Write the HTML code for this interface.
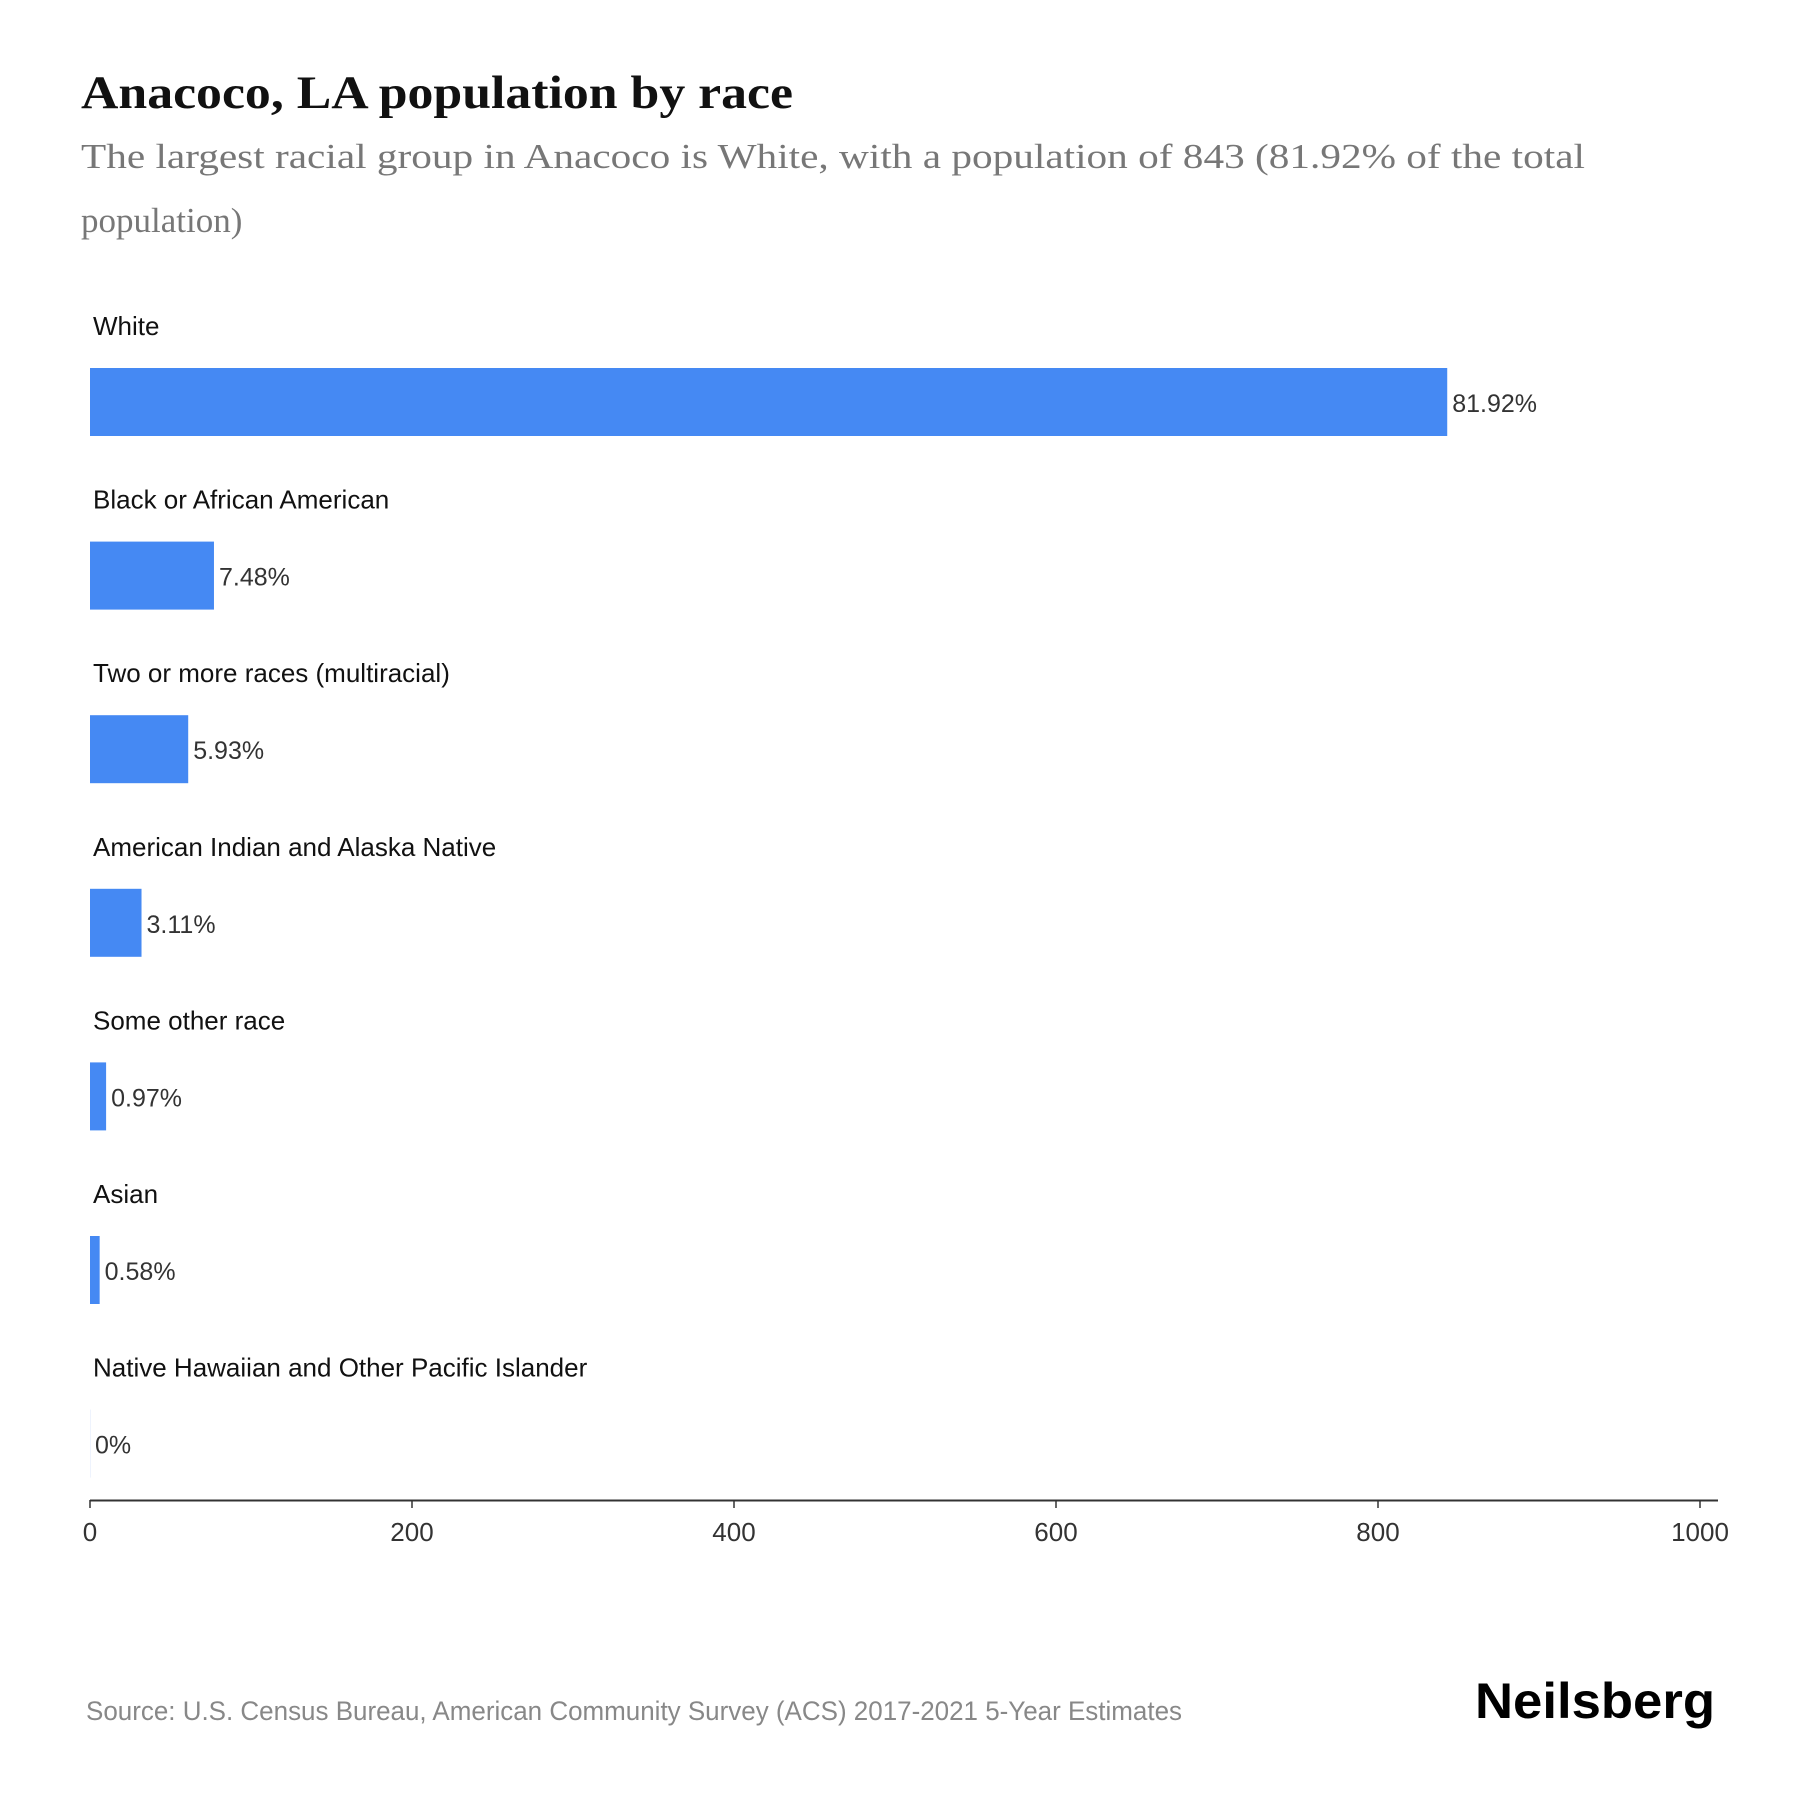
<!DOCTYPE html>
<html><head><meta charset="utf-8"><style>
html,body{margin:0;padding:0;background:#fff;}
svg{display:block;}
</style></head><body>
<svg id="chart" width="1800" height="1800" viewBox="0 0 1800 1800" xmlns="http://www.w3.org/2000/svg">
<text x="81" y="108" font-family="Liberation Serif, serif" font-weight="bold" font-size="47" fill="#111" textLength="712" lengthAdjust="spacingAndGlyphs">Anacoco, LA population by race</text>
<text x="81" y="168" font-family="Liberation Serif, serif" font-size="35" fill="#777" textLength="1504" lengthAdjust="spacingAndGlyphs">The largest racial group in Anacoco is White, with a population of 843 (81.92% of the total</text>
<text x="81" y="232" font-family="Liberation Serif, serif" font-size="35" fill="#777">population)</text>
<g id="bars"></g>
<g id="axis"></g>
<text x="86" y="1720" font-family="Liberation Sans, sans-serif" font-size="27" fill="#888" textLength="1096" lengthAdjust="spacingAndGlyphs">Source: U.S. Census Bureau, American Community Survey (ACS) 2017-2021 5-Year Estimates</text>
<text x="1475" y="1718" font-family="Liberation Sans, sans-serif" font-weight="bold" font-size="50" fill="#000" textLength="240" lengthAdjust="spacingAndGlyphs">Neilsberg</text>
</svg>
<script>
const categories = ["White","Black or African American","Two or more races (multiracial)","American Indian and Alaska Native","Some other race","Asian","Native Hawaiian and Other Pacific Islander"];
const values = [843, 77, 61, 32, 10, 6, 0];
const percentLabels = ["81.92%","7.48%","5.93%","3.11%","0.97%","0.58%","0%"];
const tickValues = [0, 200, 400, 600, 800, 1000];

const NS = "http://www.w3.org/2000/svg";
const x0 = 90, pxPerUnit = 1.61;
function xScale(v){ return x0 + v * pxPerUnit; }
function rowTop(i){ return 368 + i * 173.6; }
const barH = 68;

const bars = document.getElementById('bars');
categories.forEach((c, i) => {
  const t = document.createElementNS(NS, 'text');
  
  
  t.setAttribute('x', 93); t.setAttribute('y', rowTop(i) - 33);
  t.setAttribute('font-family', 'Liberation Sans, sans-serif');
  t.setAttribute('font-size', '26'); t.setAttribute('fill', '#111');
  t.textContent = c; bars.appendChild(t);

  const w = Math.max(xScale(values[i]) - x0, 0);
  const r = document.createElementNS(NS, 'rect');
  
  
  r.setAttribute('x', x0); r.setAttribute('y', rowTop(i));
  r.setAttribute('width', w === 0 ? 1 : w); r.setAttribute('height', barH);
  r.setAttribute('fill', w === 0 ? '#eef3fd' : '#4589f3');
  bars.appendChild(r);

  const v = document.createElementNS(NS, 'text');
  
  
  v.setAttribute('x', xScale(values[i]) + 5); v.setAttribute('y', rowTop(i) + 44);
  v.setAttribute('font-family', 'Liberation Sans, sans-serif');
  v.setAttribute('font-size', '25'); v.setAttribute('fill', '#333');
  v.textContent = percentLabels[i]; bars.appendChild(v);
});

const axis = document.getElementById('axis');
const line = document.createElementNS(NS, 'line');


line.setAttribute('x1', x0); line.setAttribute('x2', 1718);
line.setAttribute('y1', 1500.5); line.setAttribute('y2', 1500.5);
line.setAttribute('stroke', '#333'); line.setAttribute('stroke-width', '2');
axis.appendChild(line);
tickValues.forEach(tv => {
  const tk = document.createElementNS(NS, 'line');
  
  
  tk.setAttribute('x1', xScale(tv)); tk.setAttribute('x2', xScale(tv));
  tk.setAttribute('y1', 1500); tk.setAttribute('y2', 1508);
  tk.setAttribute('stroke', '#333'); tk.setAttribute('stroke-width', '1.5');
  axis.appendChild(tk);
  const lb = document.createElementNS(NS, 'text');
  
  
  lb.setAttribute('x', xScale(tv)); lb.setAttribute('y', 1541);
  lb.setAttribute('text-anchor', 'middle');
  lb.setAttribute('font-family', 'Liberation Sans, sans-serif');
  lb.setAttribute('font-size', '26'); lb.setAttribute('fill', '#333');
  lb.textContent = String(tv); axis.appendChild(lb);
});
</script>
</body></html>
